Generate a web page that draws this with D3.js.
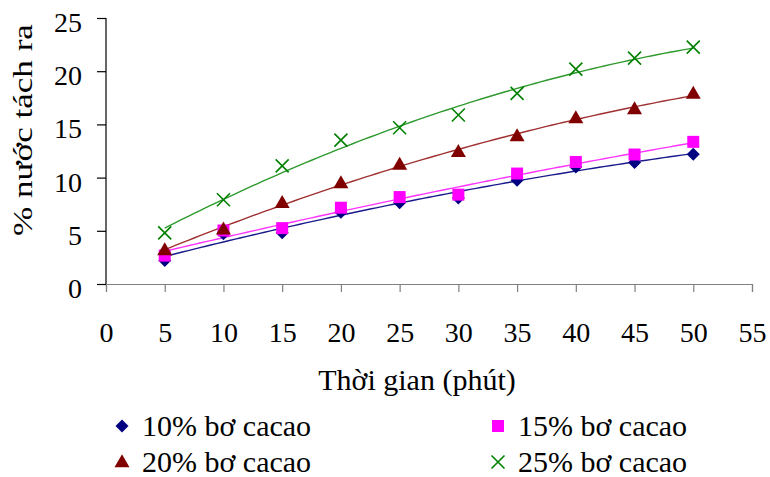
<!DOCTYPE html>
<html>
<head>
<meta charset="utf-8">
<script src="https://cdn.jsdelivr.net/npm/d3@7"></script>
<style>
  html, body { margin: 0; padding: 0; background: #fff; }
  svg { display: block; }
  svg text { font-family: "Liberation Serif", "DejaVu Serif", "Times New Roman", Times, serif !important; fill: #000; }
</style>
</head>
<body>
<svg id="chart" width="770" height="477"></svg>
<script>
// ---- Data ----
const time = [5, 10, 15, 20, 25, 30, 35, 40, 45, 50];
const cacao10 = [2.2, 4.72, 4.81, 6.75, 7.64, 8.08, 9.75, 11.0, 11.42, 12.2];
const cacao15 = [2.67, 5.03, 5.25, 7.17, 8.17, 8.4, 10.38, 11.47, 12.17, 13.36];
const cacao20 = [3.2, 5.15, 7.64, 9.49, 11.23, 12.42, 13.9, 15.6, 16.44, 17.89];
const cacao25 = [4.81, 7.92, 11.1, 13.52, 14.68, 15.88, 17.92, 20.19, 21.23, 22.26];
const seriesNames = ["10% bơ cacao", "15% bơ cacao", "20% bơ cacao", "25% bơ cacao"];
const xTickValues = [0, 5, 10, 15, 20, 25, 30, 35, 40, 45, 50, 55];
const yTickValues = [0, 5, 10, 15, 20, 25];
const xTitle = "Thời gian (phút)";
const yTitle = "% nước tách ra";

const seriesValues = [cacao10, cacao15, cacao20, cacao25];
const colors = ["#000080", "#FF00FF", "#800000", "#008000"];
const lineColors = ["#1a1a8c", "#ff33ff", "#a03030", "#2e9a2e"];
const shapes = ["diamond", "square", "triangle", "x"];
const FONT = "'Liberation Serif', 'DejaVu Serif', serif";

const svg = d3.select("#chart");
const x = d3.scaleLinear().domain([0, 55]).range([106, 752]);
const y = d3.scaleLinear().domain([0, 25]).range([284, 18]);

// axes
const xAxis = d3.axisBottom(x).tickValues(xTickValues).tickSize(8).tickPadding(30).tickFormat(d3.format("d"));
const gx = svg.append("g").attr("transform", `translate(0,${y(0)})`).call(xAxis).attr("font-family", FONT);
gx.select(".domain").attr("stroke", "#808080").attr("stroke-width", 1.2);
gx.selectAll(".tick line").attr("stroke", "#808080").attr("stroke-width", 1.2);
gx.selectAll(".tick text").attr("font-size", 28).style("font-family", FONT);

const yAxis = d3.axisLeft(y).tickValues(yTickValues).tickSize(9).tickPadding(15).tickFormat(d3.format("d"));
const gy = svg.append("g").attr("transform", `translate(${x(0)},0)`).call(yAxis).attr("font-family", FONT);
gy.select(".domain").attr("stroke", "#000").attr("stroke-width", 1.2);
gy.selectAll(".tick line").attr("stroke", "#000").attr("stroke-width", 1.2);
gy.selectAll(".tick text").attr("font-size", 28).attr("dy", "0.48em").style("font-family", FONT);
gy.selectAll(".domain").attr("d", `M-0,${y(25)}H0V${y(0)}`);

// titles
svg.append("text").attr("x", 417).attr("y", 390).attr("text-anchor", "middle")
  .attr("font-size", 30).style("font-family", FONT).text(xTitle);
svg.append("text").attr("transform", `translate(32,130) rotate(-90) scale(1.17,0.93)`).attr("text-anchor", "middle")
  .attr("font-size", 30).style("font-family", FONT).text(yTitle);

// quadratic least-squares trendline fitted to each series
function quadFit(xs, ys) {
  let S = [[0,0,0],[0,0,0],[0,0,0]], T = [0,0,0];
  xs.forEach((xv, i) => {
    const p = [1, xv, xv * xv];
    for (let r = 0; r < 3; r++) { T[r] += p[r] * ys[i]; for (let c = 0; c < 3; c++) S[r][c] += p[r] * p[c]; }
  });
  const A = S.map((row, i) => row.concat([T[i]]));
  for (let i = 0; i < 3; i++) {
    for (let k = i + 1; k < 3; k++) {
      const f = A[k][i] / A[i][i];
      for (let j = i; j < 4; j++) A[k][j] -= f * A[i][j];
    }
  }
  const b = [0,0,0];
  for (let i = 2; i >= 0; i--) {
    let s = A[i][3];
    for (let j = i + 1; j < 3; j++) s -= A[i][j] * b[j];
    b[i] = s / A[i][i];
  }
  return t => b[0] + b[1] * t + b[2] * t * t;
}

function markerPath(shape) {
  if (shape === "diamond") { const h = 6.5; return `M0,${-h}L${h},0L0,${h}L${-h},0Z`; }
  if (shape === "square") { const h = 6; return `M${-h},${-h}H${h}V${h}H${-h}Z`; }
  if (shape === "triangle") { const w = 7.5, ht = 13; return `M0,${-ht*0.6}L${w},${ht*0.4}L${-w},${ht*0.4}Z`; }
  const h = 6.5; return `M${-h},${-h}L${h},${h}M${-h},${h}L${h},${-h}`;
}
function styleMarker(sel, i) {
  if (shapes[i] === "x") sel.attr("fill", "none").attr("stroke", colors[i]).attr("stroke-width", 1.6);
  else sel.attr("fill", colors[i]).attr("stroke", "none");
}

const line = d3.line().x(d => x(d[0])).y(d => y(d[1]));
const tSamples = d3.range(5, 50.001, 0.5);

seriesValues.forEach((vals, i) => {
  const f = quadFit(time, vals);
  svg.append("path").datum(tSamples.map(t => [t, f(t)]))
    .attr("d", line).attr("fill", "none").attr("stroke", lineColors[i]).attr("stroke-width", 1.4);
});
seriesValues.forEach((vals, i) => {
  svg.append("g").selectAll("path").data(time.map((t, k) => [t, vals[k]])).join("path")
    .attr("transform", d => `translate(${x(d[0])},${y(d[1])})`)
    .attr("d", markerPath(shapes[i]))
    .call(sel => styleMarker(sel, i));
});

// legend
const legendPos = [[122, 426], [498, 426], [122, 462], [498, 462]];
seriesNames.forEach((name, i) => {
  const [lx, ly] = legendPos[i];
  svg.append("path").attr("transform", `translate(${lx},${ly})`).attr("d", markerPath(shapes[i]))
    .call(sel => styleMarker(sel, i));
  svg.append("text").attr("x", lx + 20).attr("y", ly + 10).attr("font-size", 30)
    .style("font-family", FONT).text(name);
});
</script>
</body>
</html>
